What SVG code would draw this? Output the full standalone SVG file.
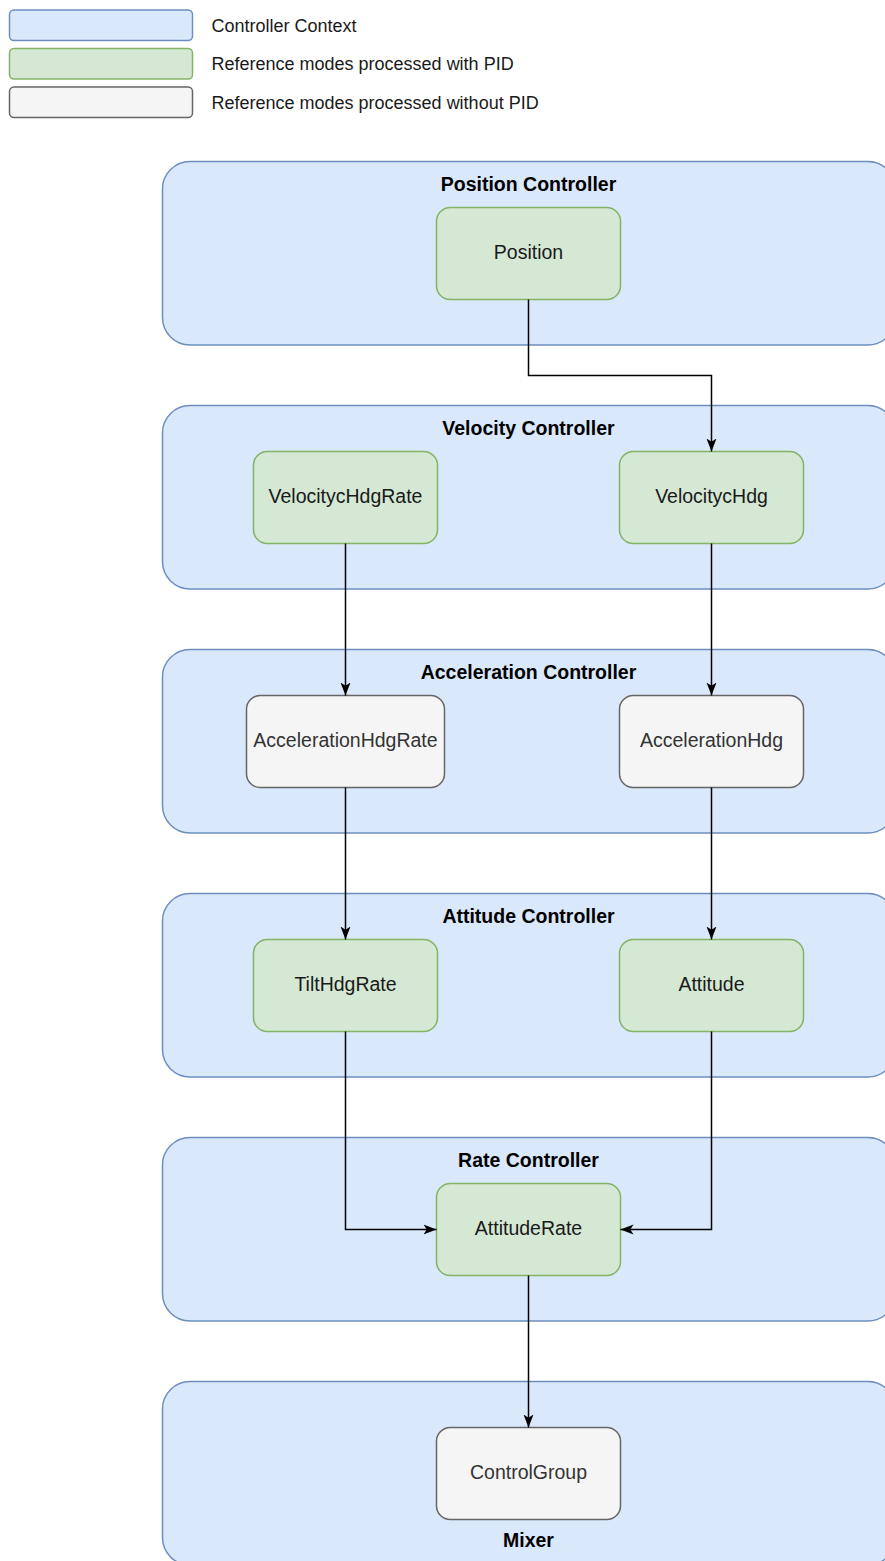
<svg xmlns="http://www.w3.org/2000/svg" width="885" height="1561" viewBox="0 0 885 1561">
<defs>
<style>
.ctx{fill:#dae8fc;stroke:#6c8ebf;stroke-width:1.5}
.pid{fill:#d5e8d4;stroke:#82b366;stroke-width:1.5}
.nopid{fill:#f5f5f5;stroke:#666666;stroke-width:1.5}
.lg{font-family:"Liberation Sans",Arial,sans-serif;font-size:18px;fill:#1a1a1a}
.title{font-family:"Liberation Sans",Arial,sans-serif;font-size:19.5px;font-weight:bold;fill:#000;text-anchor:middle}
.lbl{font-family:"Liberation Sans",Arial,sans-serif;font-size:19.5px;fill:#1a1a1a;text-anchor:middle}
.lbl2{font-family:"Liberation Sans",Arial,sans-serif;font-size:19.5px;fill:#333333;text-anchor:middle}
.edge{fill:none;stroke:#000;stroke-width:1.5}
</style>
<marker id="arr" markerUnits="userSpaceOnUse" markerWidth="14" markerHeight="12" refX="13" refY="5" orient="auto" viewBox="0 0 14 10">
<path d="M0,0 L13,5 L0,10 L3.2,5 Z" fill="#000"/>
</marker>
</defs>

<g id="legend">
<rect class="ctx" x="9.5" y="10" width="183" height="30.5" rx="4.5"/>
<text class="lg" x="211.5" y="31.5">Controller Context</text>
<rect class="pid" x="9.5" y="48.5" width="183" height="30.5" rx="4.5"/>
<text class="lg" x="211.5" y="70">Reference modes processed with PID</text>
<rect class="nopid" x="9.5" y="87" width="183" height="30.5" rx="4.5"/>
<text class="lg" x="211.5" y="108.5">Reference modes processed without PID</text>
</g>

<g id="position-controller">
<rect class="ctx" x="162.5" y="161.5" width="733" height="183.5" rx="27.5"/>
<text class="title" x="528.5" y="191">Position Controller</text>
</g>
<g id="velocity-controller">
<rect class="ctx" x="162.5" y="405.5" width="733" height="183.5" rx="27.5"/>
<text class="title" x="528.5" y="435">Velocity Controller</text>
</g>
<g id="acceleration-controller">
<rect class="ctx" x="162.5" y="649.5" width="733" height="183.5" rx="27.5"/>
<text class="title" x="528.5" y="679">Acceleration Controller</text>
</g>
<g id="attitude-controller">
<rect class="ctx" x="162.5" y="893.5" width="733" height="183.5" rx="27.5"/>
<text class="title" x="528.5" y="923">Attitude Controller</text>
</g>
<g id="rate-controller">
<rect class="ctx" x="162.5" y="1137.5" width="733" height="183.5" rx="27.5"/>
<text class="title" x="528.5" y="1167">Rate Controller</text>
</g>
<g id="mixer">
<rect class="ctx" x="162.5" y="1381.5" width="733" height="183.5" rx="27.5"/>
<text class="title" x="528.5" y="1547">Mixer</text>
</g>

<g id="node-position">
<rect class="pid" x="436.5" y="207.5" width="184" height="92" rx="13.8"/>
<text class="lbl" x="528.5" y="259">Position</text>
</g>
<g id="node-velocitychdgrate">
<rect class="pid" x="253.5" y="451.5" width="184" height="92" rx="13.8"/>
<text class="lbl" x="345.5" y="503">VelocitycHdgRate</text>
</g>
<g id="node-velocitychdg">
<rect class="pid" x="619.5" y="451.5" width="184" height="92" rx="13.8"/>
<text class="lbl" x="711.5" y="503">VelocitycHdg</text>
</g>
<g id="node-accelerationhdgrate">
<rect class="nopid" x="246.5" y="695.5" width="198" height="92" rx="13.8"/>
<text class="lbl2" x="345.5" y="747">AccelerationHdgRate</text>
</g>
<g id="node-accelerationhdg">
<rect class="nopid" x="619.5" y="695.5" width="184" height="92" rx="13.8"/>
<text class="lbl2" x="711.5" y="747">AccelerationHdg</text>
</g>
<g id="node-tilthdgrate">
<rect class="pid" x="253.5" y="939.5" width="184" height="92" rx="13.8"/>
<text class="lbl" x="345.5" y="991">TiltHdgRate</text>
</g>
<g id="node-attitude">
<rect class="pid" x="619.5" y="939.5" width="184" height="92" rx="13.8"/>
<text class="lbl" x="711.5" y="991">Attitude</text>
</g>
<g id="node-attituderate">
<rect class="pid" x="436.5" y="1183.5" width="184" height="92" rx="13.8"/>
<text class="lbl" x="528.5" y="1235">AttitudeRate</text>
</g>
<g id="node-controlgroup">
<rect class="nopid" x="436.5" y="1427.5" width="184" height="92" rx="13.8"/>
<text class="lbl2" x="528.5" y="1479">ControlGroup</text>
</g>

<g id="connectors">
<path class="edge" marker-end="url(#arr)" d="M528.5 299.5 V375.5 H711.5 V451.5"/>
<path class="edge" marker-end="url(#arr)" d="M345.5 543.5 V695.5"/>
<path class="edge" marker-end="url(#arr)" d="M711.5 543.5 V695.5"/>
<path class="edge" marker-end="url(#arr)" d="M345.5 787.5 V939.5"/>
<path class="edge" marker-end="url(#arr)" d="M711.5 787.5 V939.5"/>
<path class="edge" marker-end="url(#arr)" d="M345.5 1031.5 V1229.5 H436.5"/>
<path class="edge" marker-end="url(#arr)" d="M711.5 1031.5 V1229.5 H620.5"/>
<path class="edge" marker-end="url(#arr)" d="M528.5 1275.5 V1427.5"/>
</g>
</svg>
